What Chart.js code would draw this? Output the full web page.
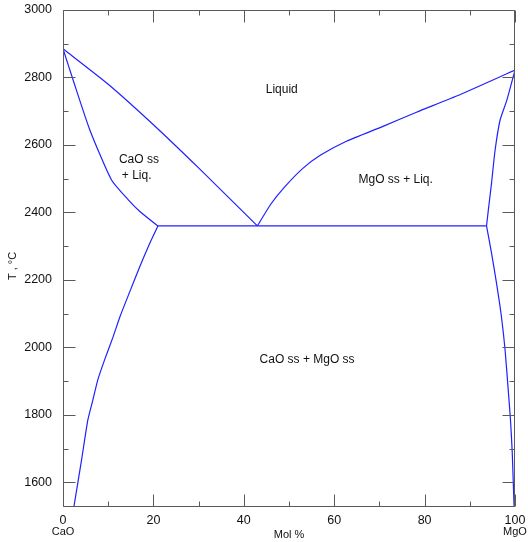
<!DOCTYPE html>
<html><head><meta charset="utf-8">
<script src="https://cdn.jsdelivr.net/npm/chart.js@4/dist/chart.umd.min.js"></script>
<style>html,body{margin:0;padding:0;background:#fff}#wrap{width:528px;height:542px;position:relative}</style>
</head><body><div id="wrap"><canvas id="c"></canvas></div>
<script>
// Phase boundaries (x = mol % MgO, T = °C)
const caoLiquidusX = [0, 10, 20, 30, 43.0];
const caoLiquidusT = [2885, 2780, 2660, 2532, 2360];
const caoSolidusX = [0, 2.2, 5.9, 10.7, 14.4, 17.0, 21.0];
const caoSolidusT = [2885, 2794, 2646, 2497, 2438, 2403, 2360];
const caoSolvusX = [21.0, 19.2, 17.0, 14.8, 12.6, 11.1, 9.2, 7.7, 6.6, 5.5, 4.1, 2.4];
const caoSolvusT = [2360, 2309, 2240, 2166, 2091, 2032, 1963, 1904, 1844, 1785, 1666, 1527];
const mgoLiquidusX = [43.0, 46.0, 49.0, 53.0, 57.0, 62.7, 70.8, 78.2, 87.1, 100];
const mgoLiquidusT = [2360, 2425, 2475, 2530, 2570, 2611, 2655, 2697, 2745, 2822];
const mgoSolidusX = [100, 98.2, 96.7, 95.6, 94.8, 94.1, 93.7];
const mgoSolidusT = [2822, 2733, 2674, 2585, 2486, 2407, 2360];
const mgoSolvusX = [93.7, 94.8, 95.9, 97.0, 97.8, 98.5, 99.0, 99.4, 99.8];
const mgoSolvusT = [2360, 2280, 2191, 2091, 1993, 1874, 1785, 1686, 1527];
const eutecticX = [21.0, 93.7];
const eutecticT = [2360, 2360];

// Ticks
const xTickValues = [0, 10, 20, 30, 40, 50, 60, 70, 80, 90, 100];
const yTickValues = [1600, 1700, 1800, 1900, 2000, 2100, 2200, 2300, 2400, 2500, 2600, 2700, 2800, 2900, 3000];

// Region labels
const regionLabels = ['Liquid', 'CaO ss', '+ Liq.', 'MgO ss + Liq.', 'CaO ss + MgO ss'];
const regionX = [48.4, 16.8, 16.3, 73.6, 54.0];
const regionT = [2764, 2557, 2509, 2498, 1963];

const endLabels = ['CaO', 'MgO'];
const endX = [0, 100];

const FONT = '"Liberation Sans", Arial, sans-serif';

function pts(xs, ts) { return xs.map((v, i) => ({x: v, y: ts[i]})); }
function ds(xs, ts, tension) {
  return {data: pts(xs, ts), showLine: true, borderColor: '#2020ff', borderWidth: 1.2,
          pointRadius: 0, tension: tension, fill: false};
}

const framePlugin = {
  id: 'frame',
  afterDatasetsDraw(chart) {
    const {ctx, chartArea: a, scales} = chart;
    const xs = scales.x, ys = scales.y;
    ctx.save();
    ctx.strokeStyle = '#5a5a5a';
    ctx.lineWidth = 1;
    const L = Math.round(a.left) + 0.5, R = Math.round(a.right) - 0.5;
    const T = Math.round(a.top) + 0.5, B = Math.round(a.bottom) - 0.5;
    ctx.beginPath();
    ctx.rect(L, T, R - L, B - T);
    ctx.stroke();
    ctx.beginPath();
    xTickValues.forEach(v => {
      const p = Math.round(xs.getPixelForValue(v)) + 0.5;
      const len = v % 20 === 0 ? 12 : 5;
      ctx.moveTo(p, B); ctx.lineTo(p, B - len);
      ctx.moveTo(p, T); ctx.lineTo(p, T + len);
    });
    yTickValues.forEach(v => {
      const p = Math.round(ys.getPixelForValue(v)) + 0.5;
      const len = v % 200 === 0 ? 12 : 5;
      ctx.moveTo(L, p); ctx.lineTo(L + len, p);
      ctx.moveTo(R, p); ctx.lineTo(R - len, p);
    });
    ctx.stroke();

    ctx.fillStyle = '#111';
    ctx.textAlign = 'center';
    ctx.textBaseline = 'middle';
    ctx.font = '12px ' + FONT;
    regionLabels.forEach((t, i) => {
      ctx.fillText(t, xs.getPixelForValue(regionX[i]), ys.getPixelForValue(regionT[i]));
    });
    ctx.font = '11px ' + FONT;
    endLabels.forEach((t, i) => {
      ctx.fillText(t, Math.min(xs.getPixelForValue(endX[i]), 515), 532);
    });
    ctx.fillText('Mol %', 289, 535);
    ctx.translate(13, 266);
    ctx.rotate(-Math.PI / 2);
    ctx.fillText('T , °C', 0, 0);
    ctx.restore();
  }
};

new Chart(document.getElementById('c'), {
  type: 'scatter',
  data: {datasets: [
    ds(caoLiquidusX, caoLiquidusT, 0.2), ds(caoSolidusX, caoSolidusT, 0.2), ds(caoSolvusX, caoSolvusT, 0.2),
    ds(mgoLiquidusX, mgoLiquidusT, 0.2), ds(mgoSolidusX, mgoSolidusT, 0.2), ds(mgoSolvusX, mgoSolvusT, 0.2),
    ds(eutecticX, eutecticT, 0)
  ]},
  options: {
    responsive: true, maintainAspectRatio: false, animation: false,
    layout: {padding: {top: 10, right: 13, left: 0, bottom: 0}},
    plugins: {legend: {display: false}, tooltip: {enabled: false}},
    scales: {
      x: {
        type: 'linear', min: 0, max: 100,
        grid: {display: false, drawTicks: false}, border: {display: false},
        afterBuildTicks: s => { s.ticks = xTickValues.map(v => ({value: v})); },
        afterFit: s => { s.height = 35; s.paddingLeft = 0; s.paddingRight = 0; },
        ticks: {autoSkip: false, maxRotation: 0, padding: 6, color: '#111',
                font: {family: FONT, size: 12.5},
                callback: v => (v % 20 === 0 ? String(v) : '')}
      },
      y: {
        type: 'linear', min: 1527, max: 3000,
        grid: {display: false, drawTicks: false}, border: {display: false},
        afterBuildTicks: s => { s.ticks = yTickValues.map(v => ({value: v})); },
        afterFit: s => { s.width = 63; s.paddingTop = 0; s.paddingBottom = 0; },
        ticks: {autoSkip: false, padding: 11, color: '#111',
                font: {family: FONT, size: 12.5},
                callback: v => (v % 200 === 0 ? String(v) : '')}
      }
    }
  },
  plugins: [framePlugin]
});
</script></body></html>
